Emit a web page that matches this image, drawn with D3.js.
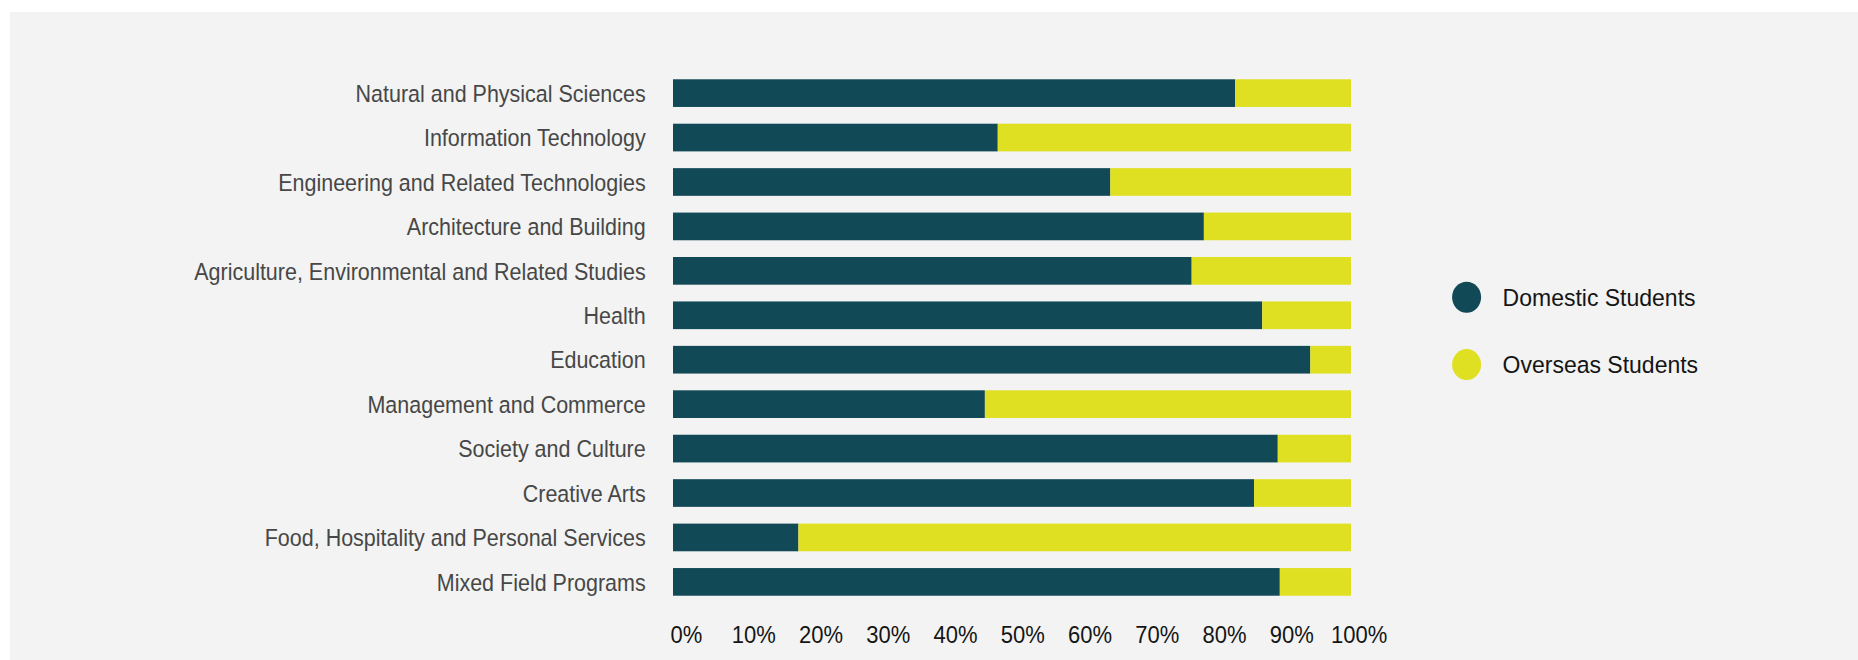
<!DOCTYPE html>
<html>
<head>
<meta charset="utf-8">
<script src="https://cdn.jsdelivr.net/npm/d3@7/dist/d3.min.js"></script>
<style>
  html, body { margin: 0; padding: 0; background: #ffffff; }
  svg { display: block; }
</style>
</head>
<body>
<svg id="chart" width="1858" height="660"></svg>
<script>
// Fields of education, top to bottom
const categories = [
  "Natural and Physical Sciences",
  "Information Technology",
  "Engineering and Related Technologies",
  "Architecture and Building",
  "Agriculture, Environmental and Related Studies",
  "Health",
  "Education",
  "Management and Commerce",
  "Society and Culture",
  "Creative Arts",
  "Food, Hospitality and Personal Services",
  "Mixed Field Programs"
];

// Share of domestic students (%); overseas students make up the rest
const domestic = [82.9, 47.9, 64.5, 78.3, 76.5, 86.9, 94.0, 46.0, 89.2, 85.7, 18.5, 89.5];
const overseas = domestic.map(d => 100 - d);

const seriesNames = ["Domestic Students", "Overseas Students"];
const tickValues = [0, 10, 20, 30, 40, 50, 60, 70, 80, 90, 100];

const colors = { "Domestic Students": "#124957", "Overseas Students": "#dfe021" };

const svg = d3.select("#chart");

// panel background
svg.append("rect")
  .attr("x", 10).attr("y", 12)
  .attr("width", 1848).attr("height", 648)
  .attr("fill", "#f2f3f2");

const x = d3.scaleLinear().domain([0, 100]).range([673, 1351]);
const y = d3.scaleBand()
  .domain(categories)
  .range([70.9, 604.1])
  .paddingInner(0.377)
  .paddingOuter(0.1885);

const rows = categories.map((c, i) => ({
  category: c,
  "Domestic Students": domestic[i],
  "Overseas Students": overseas[i]
}));

const stacked = d3.stack().keys(seriesNames)(rows);

svg.append("g")
  .selectAll("g")
  .data(stacked)
  .join("g")
  .attr("fill", d => colors[d.key])
  .selectAll("rect")
  .data(d => d)
  .join("rect")
  .attr("x", d => x(d[0]))
  .attr("y", d => y(d.data.category))
  .attr("width", d => x(d[1]) - x(d[0]))
  .attr("height", y.bandwidth());

// category labels
const yAxis = svg.append("g")
  .attr("transform", `translate(${x(0)},0)`)
  .call(d3.axisLeft(y).tickSize(0).tickPadding(27));
yAxis.select(".domain").remove();
yAxis.selectAll("text")
  .attr("x", -27.3)
  .attr("dy", "0.36em")
  .attr("transform", "scale(1,1.12)")
  .style("font-family", "'Liberation Sans', Arial, sans-serif")
  .style("font-size", "21.5px")
  .attr("fill", "#474747");

// percentage labels along the bottom
const xLabel = x.copy().range([686, 1358.6]);
const xAxis = svg.append("g")
  .attr("transform", "translate(0,634.5)")
  .call(d3.axisBottom(xLabel).tickValues(tickValues).tickFormat(d => d + "%").tickSize(0).tickPadding(0));
xAxis.select(".domain").remove();
xAxis.selectAll("text")
  .attr("y", 0)
  .attr("dy", "0.36em")
  .attr("transform", "scale(1,1.1)")
  .style("font-family", "'Liberation Sans', Arial, sans-serif")
  .style("font-size", "22px")
  .attr("fill", "#151515");

// legend
const legendY = d3.scalePoint().domain(seriesNames).range([297.2, 364.6]);
const legend = svg.append("g")
  .selectAll("g")
  .data(seriesNames)
  .join("g")
  .attr("transform", d => `translate(1466.6,${legendY(d)})`);
legend.append("ellipse")
  .attr("rx", 14.5)
  .attr("ry", 15.5)
  .attr("fill", d => colors[d]);
legend.append("text")
  .attr("x", 36)
  .attr("y", 0)
  .attr("dy", "0.36em")
  .attr("transform", "scale(1,1.06)")
  .style("font-family", "'Liberation Sans', Arial, sans-serif")
  .style("font-size", "23px")
  .attr("fill", "#151515")
  .text(d => d);
</script>
</body>
</html>
